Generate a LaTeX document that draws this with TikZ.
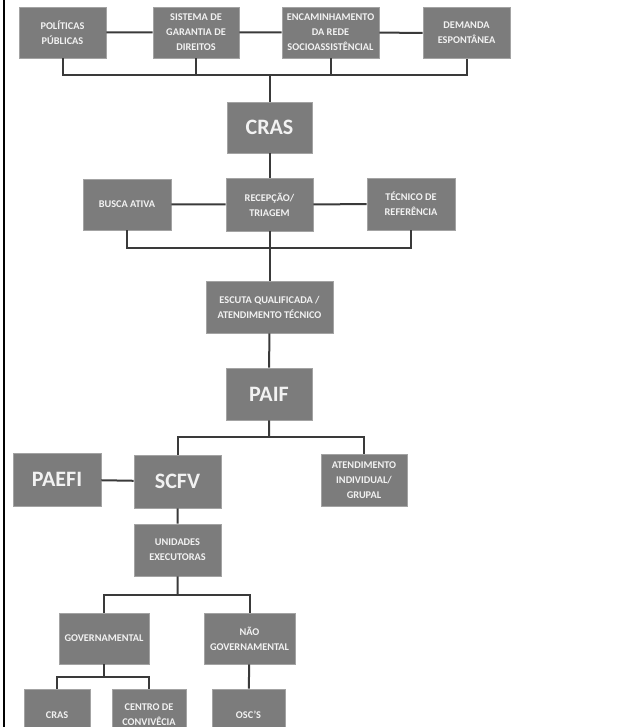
\documentclass[tikz,border=0pt]{standalone}
\usepackage{fontspec}
\setmainfont{Carlito}
\usepackage{tikz}
\usetikzlibrary{positioning}
\definecolor{boxgray}{RGB}{124,124,124}
\definecolor{linegray}{RGB}{58,58,58}
\definecolor{txtwhite}{RGB}{242,242,242}
\begin{document}
\begin{tikzpicture}[x=1pt,y=-1pt,line width=2pt,draw=linegray,
    block/.style = {draw=boxgray!70!white,line width=0.6pt,fill=boxgray,text=txtwhite,align=center,inner sep=2,font=\bfseries\fontsize{10.3}{15}\selectfont,minimum height=51},
    bigblock/.style = {block,font=\bfseries\fontsize{22}{24}\selectfont}]
            \useasboundingbox (0,0) rectangle (642,727);
            \draw[color={RGB:red,90;green,90;blue,90}] (4,0) -- (4,727);
            \node[block,minimum width=87](pol) at (62.5,32.5) {POLÍTICAS\\PÚBLICAS};
            \node[block,minimum width=86](sis) at (196,32.5) {SISTEMA DE\\GARANTIA DE\\DIREITOS};
            \node[block,minimum width=97](enc) at (330.5,32.5) {ENCAMINHAMENTO\\DA REDE\\SOCIOASSISTÊNCIAL};
            \node[block,minimum width=87](dem) at (466.5,33) {DEMANDA\\ESPONTÂNEA};
            \node[bigblock,minimum width=85](cras) at (269.5,127.5) {CRAS};
            \node[block,minimum width=88](busca) at (127,204.5) {BUSCA ATIVA};
            \node[block,minimum width=87,minimum height=53](recep) at (269.5,204.5) {RECEPÇÃO/\\TRIAGEM};
            \node[block,minimum width=88,minimum height=52](tec) at (411,204) {TÉCNICO DE\\REFERÊNCIA};
            \node[block,minimum width=127,minimum height=52](escuta) at (269.5,307) {ESCUTA QUALIFICADA /\\ATENDIMENTO TÉCNICO};
            \node[bigblock,minimum width=86,minimum height=52](paif) at (269,394) {PAIF};
            \node[bigblock,minimum width=88,minimum height=53](paefi) at (57,479.5) {PAEFI};
            \node[bigblock,minimum width=87,minimum height=53](scfv) at (177.5,481.5) {SCFV};
            \node[block,minimum width=86,minimum height=52](atend) at (364,480) {ATENDIMENTO\\INDIVIDUAL/\\GRUPAL};
            \node[block,minimum width=87,minimum height=52](unid) at (177.5,550) {UNIDADES\\EXECUTORAS};
            \node[block,minimum width=90](gov) at (104,638.5) {GOVERNAMENTAL};
            \node[block,minimum width=91](nao) at (249.5,638.5) {NÃO\\GOVERNAMENTAL};
            \node[block,minimum width=66,minimum height=52](cras2) at (57,715) {CRAS};
            \node[block,minimum width=74,minimum height=52](centro) at (149,715) {CENTRO DE\\CONVIVÊCIA};
            \node[block,minimum width=73,minimum height=52](osc) at (248.5,715) {OSC'S};
            \coordinate (j1) at (269.5,75);
            \coordinate (j2) at (269.5,248);
            \coordinate (j3) at (269,437);
            \coordinate (j4) at (177.5,595);
            \coordinate (j5) at (104,677);
            \draw (pol) -- (sis) (sis) -- (enc) (enc) -- (dem);
            \draw (pol) |- (j1) (sis) |- (j1) (enc) |- (j1) (dem) |- (j1);
            \draw (j1) -- (cras) (cras) -- (recep);
            \draw (busca) -- (recep) (recep) -- (tec);
            \draw (busca) |- (j2) (tec) |- (j2) (recep) -- (j2) (j2) -- (escuta);
            \draw (escuta) -- (paif) (paif) -- (j3);
            \draw (j3) -| (scfv) (j3) -| (atend);
            \draw (paefi) -- (scfv) (scfv) -- (unid) (unid) -- (j4);
            \draw (j4) -| (gov) (j4) -| (nao);
            \draw (gov) -- (j5) (j5) -| (cras2) (j5) -| (centro);
            \draw (nao) -- (osc);
    \end{tikzpicture}
\end{document}
